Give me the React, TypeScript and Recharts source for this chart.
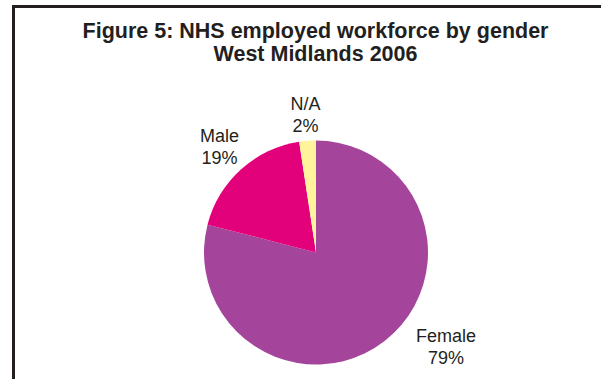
import React from 'react'
import { PieChart, Pie, Cell } from 'recharts'

const categories = ['Female', 'Male', 'N/A']
const shares = [79, 18.6, 2.4]
const colors = ['#A4459B', '#E3007B', '#FFF49C']

// label placement tweaks (Excel nudged the Female label up)
const labelRadius = [160, 144, 139]
const labelAngleShift = [16.5, 0, 0]

const data = categories.map((name, i) => ({ name, value: shares[i] }))

const RADIAN = Math.PI / 180

const renderLabel = (props: any) => {
  const { cx, cy, midAngle, index, value, name } = props
  const r = labelRadius[index]
  const a = (midAngle + labelAngleShift[index]) * RADIAN
  const x = cx + r * Math.cos(-a)
  const y = cy + r * Math.sin(-a)
  return (
    <text
      x={x}
      y={y}
      textAnchor="middle"
      fill="#231F20"
      fontSize={18}
      fontFamily="'Liberation Sans', Arial, sans-serif"
    >
      <tspan x={x} dy={-4}>{name}</tspan>
      <tspan x={x} dy={22}>{`${Math.round(value)}%`}</tspan>
    </text>
  )
}

export default function App() {
  return (
    <div
      style={{
        position: 'fixed',
        left: 0,
        top: 0,
        width: 601,
        height: 379,
        overflow: 'hidden',
        background: '#fff',
      }}
    >
      <div
        style={{
          position: 'absolute',
          left: 12,
          top: 5,
          width: 600,
          height: 420,
          border: '3px solid #231F20',
        }}
      />
      <div
        style={{
          position: 'absolute',
          left: 0,
          top: 20,
          width: 631,
          textAlign: 'center',
          fontFamily: "'Liberation Sans', Arial, sans-serif",
          fontWeight: 'bold',
          fontSize: 21.5,
          lineHeight: '23px',
          color: '#231F20',
        }}
      >
        Figure 5: NHS employed workforce by gender
        <br />
        West Midlands 2006
      </div>
      <div style={{ position: 'absolute', left: 0, top: 0 }}>
        <PieChart width={601} height={379} margin={{ top: 0, right: 0, bottom: 0, left: 0 }}>
          <Pie
            data={data}
            dataKey="value"
            nameKey="name"
            cx={316}
            cy={252.5}
            outerRadius={112}
            startAngle={90}
            endAngle={-270}
            stroke="none"
            label={renderLabel}
            labelLine={false}
            isAnimationActive={false}
          >
            {data.map((entry, index) => (
              <Cell key={`cell-${index}`} fill={colors[index]} />
            ))}
          </Pie>
        </PieChart>
      </div>
    </div>
  )
}
